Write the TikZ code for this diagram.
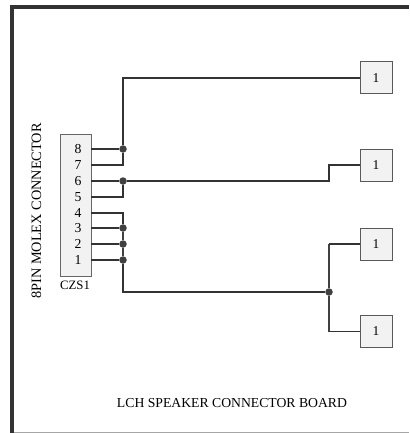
\documentclass[tikz,border=0pt]{standalone}
\usepackage{fontspec}
\setmainfont{Liberation Serif}
\usepackage{tikz}
\pgfkeys{/pxgrid/.code=\tikzset{x={(1pt,0pt)},y={(0pt,-1pt)}}}
\tikzset{
  part/.style={draw=black!65,fill=black!5,line width=1pt,minimum size=32pt,inner sep=0pt,font=\fontsize{13.5}{13.5}\selectfont},
  wire/.style={draw=black!80,line width=1.2pt},
  bus/.style={draw=black!75,line width=1.5pt},
  joint/.style={circle,fill=black!75,minimum size=7.5pt,inner sep=0pt},
  lbl/.style={inner sep=0pt,font=\fontsize{13.7}{13.7}\selectfont},
}
\begin{document}
\begin{tikzpicture}[/pxgrid]
  \useasboundingbox (0,0) rectangle (409,433);

  % board outline
  \draw[line width=4pt,color=black!80] (12,433)--(12,7.5)--(409,7.5);
  \draw[line width=1pt,color=black!35] (14,432.5)--(409,432.5);

  % molex connector
  \node[draw=black!60,fill=black!5,line width=1pt,minimum width=31pt,minimum height=142pt,inner sep=0pt] (czs) at (75.5,205) {};
  \foreach \i/\y in {8/149,7/165,6/181,5/197,4/213,3/228,2/244,1/260} {
    \node[lbl] (n\i) at (78,\y) {\i};
    \coordinate (p\i) at (91,\y);
  }
  \node[lbl,font=\fontsize{12.8}{12.8}\selectfont] (czsname) at (75,285) {CZS1};
  \node[lbl,rotate=90,font=\fontsize{14.3}{14.3}\selectfont] (molex) at (36.5,211) {8PIN MOLEX CONNECTOR};

  % speakers
  \node[part] (s1) at (376,78) {1};
  \node[part] (s2) at (376,165) {1};
  \node[part] (s3) at (376,244) {1};
  \node[part] (s4) at (376,331.5) {1};

  \node[joint] (j8) at (123,149) {};
  \node[joint] (j6) at (123,181) {};
  \node[joint] (j3) at (123,228) {};
  \node[joint] (j2) at (123,244) {};
  \node[joint] (j1) at (123,260) {};
  \node[joint] (js) at (329,292) {};

  \draw[wire] (p8)--(j8) (p6)--(j6) (p3)--(j3) (p2)--(j2) (p1)--(j1);
  \draw[wire] (p7)-|(j8);
  \draw[wire] (p5)-|(j6);
  \draw[wire] (p4)-|(j3);
  \draw[bus] (j3)--(j2)--(j1);
  \draw[wire] (j8)|-(s1);
  \draw[wire] (j6)--(329,181)--(329,165)--(s2);
  \draw[wire] (j1)|-(js);
  \draw[bus] (s3-|js)--(js)--(s4-|js);
  \draw[wire] (s3-|js)--(s3);
  \draw[wire] (s4-|js)--(s4);

  \node[lbl] (title) at (232,403) {LCH SPEAKER CONNECTOR BOARD};
\end{tikzpicture}
\end{document}
